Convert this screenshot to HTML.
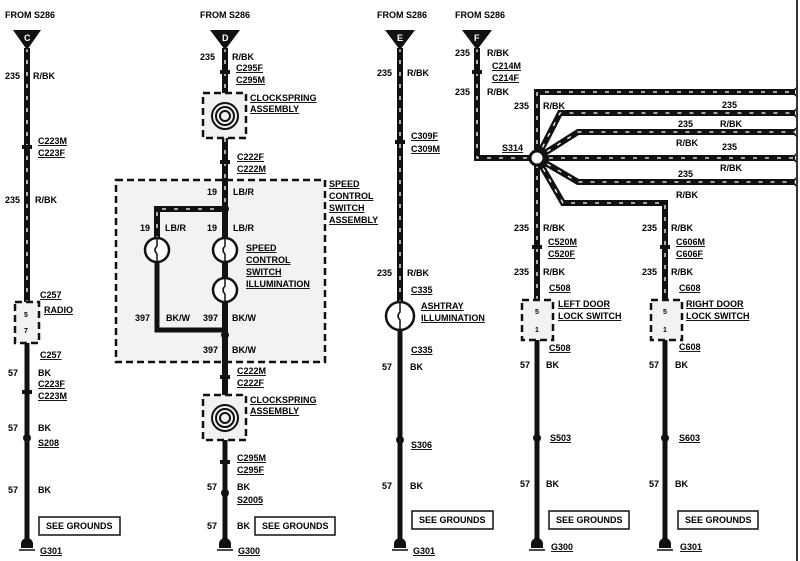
<!DOCTYPE html>
<html><head><meta charset="utf-8"><style>
body{margin:0;background:#fff}
svg{display:block}
text{font-family:"Liberation Sans",sans-serif;font-weight:bold;font-size:9px;fill:#000}
.u{text-decoration:underline}
.w{fill:none;stroke:#111;stroke-width:6}
.s{fill:none;stroke:#fff;stroke-width:1.3;stroke-dasharray:4 8}
.b{fill:none;stroke:#111;stroke-width:5}
.d{fill:#f2f2f2;stroke:#111;stroke-width:2.5;stroke-dasharray:7 4}
</style></head><body>
<svg width="800" height="561" viewBox="0 0 800 561">
<rect width="800" height="561" fill="#fff"/>
<!-- big speed control box -->
<rect x="116" y="180" width="209" height="182" class="d" fill="#f0f0f0"/>
<!-- striped wires -->
<path class="w" d="M27 48V302"/><path class="s" d="M27 48V302"/>
<path class="w" d="M225 48V93M225 138V395"/><path class="s" d="M225 48V93M225 138V209"/>
<path class="w" d="M157 240V209H225"/><path class="s" d="M157 240V209H225"/>
<path class="w" d="M400 48V302"/><path class="s" d="M400 48V302"/>
<path class="w" d="M477 48V158H537"/><path class="s" d="M477 48V158H537"/>
<path class="w" d="M537 300V92H795M537 158L560 113H795M537 158L578 132H795M537 158H795M537 158L578 182H795M537 158L563 203H665V300"/>
<path class="s" d="M537 300V92H795M537 158L560 113H795M537 158L578 132H795M537 158H795M537 158L578 182H795M537 158L563 203H665V300"/>
<circle cx="537" cy="158" r="7" fill="#fff" stroke="#111" stroke-width="3"/>
<!-- solid wires -->
<path class="b" d="M27 343V545M157 260V330H225M225 440V545M400 330V545M537 340V545M665 340V545M225 300V360"/>
<path class="b" d="M225 440V545" />
<!-- wire ends right -->
<g fill="none" stroke="#111" stroke-width="1.5"><path d="M795 88q4 4 0 8M795 109q4 4 0 8M795 128q4 4 0 8M795 154q4 4 0 8M795 178q4 4 0 8"/></g>
<!-- triangles -->
<g fill="#111"><path d="M13 30H41L27 50Z"/><path d="M210 30H240L225 50Z"/><path d="M385 30H415L400 50Z"/><path d="M462 30H492L477 50Z"/></g>
<g style="font-size:8px" fill="#fff"><text x="24" y="41" fill="#fff" style="fill:#fff">C</text><text x="222" y="41" style="fill:#fff">D</text><text x="397" y="41" style="fill:#fff">E</text><text x="474" y="41" style="fill:#fff">F</text></g>
<text x="5" y="18">FROM S286</text><text x="200" y="18">FROM S286</text><text x="377" y="18">FROM S286</text><text x="455" y="18">FROM S286</text>
<!-- connector marks -->
<g fill="#111"><rect x="22" y="145" width="10" height="4"/><rect x="220" y="70" width="10" height="4"/><rect x="220" y="160" width="10" height="4"/><rect x="395" y="140" width="10" height="4"/><rect x="472" y="70" width="10" height="4"/><rect x="532" y="245" width="10" height="4"/><rect x="660" y="245" width="10" height="4"/><rect x="22" y="390" width="10" height="4"/><rect x="220" y="375" width="10" height="4"/><rect x="220" y="460" width="10" height="4"/></g>
<!-- dashed boxes -->
<rect x="15" y="302" width="24" height="41" class="d"/><text x="24" y="317" style="font-size:7px">5</text><text x="24" y="333" style="font-size:7px">7</text>
<rect x="203" y="93" width="43" height="45" class="d"/><rect x="203" y="395" width="43" height="45" class="d"/>
<rect x="522" y="300" width="31" height="40" class="d"/><text x="535" y="314" style="font-size:7px">5</text><text x="535" y="332" style="font-size:7px">1</text>
<rect x="651" y="300" width="31" height="40" class="d"/><text x="663" y="314" style="font-size:7px">5</text><text x="663" y="332" style="font-size:7px">1</text>
<g fill="none" stroke="#111" stroke-width="2"><circle cx="225" cy="116" r="13"/><circle cx="225" cy="116" r="9"/><circle cx="225" cy="116" r="5"/><circle cx="225" cy="418" r="13"/><circle cx="225" cy="418" r="9"/><circle cx="225" cy="418" r="5"/></g>
<!-- bulbs -->
<g fill="#fff" stroke="#111" stroke-width="2.5"><circle cx="157" cy="250" r="12"/><circle cx="225" cy="250" r="12"/><circle cx="225" cy="290" r="12"/><circle cx="400" cy="316" r="14"/></g>
<g fill="none" stroke="#111" stroke-width="1.5"><path d="M157 238v8q-4 4 0 8v8M225 238v8q-4 4 0 8v8M225 278v8q-4 4 0 8v8M400 302v10q-4 4 0 8v10"/></g>
<!-- dots -->
<g fill="#111"><circle cx="225" cy="209" r="4"/><circle cx="225" cy="335" r="4"/><circle cx="27" cy="438" r="4"/><circle cx="225" cy="493" r="4"/><circle cx="400" cy="440" r="4"/><circle cx="537" cy="438" r="4"/><circle cx="665" cy="438" r="4"/></g>
<!-- grounds -->
<g fill="#111"><path d="M21 548h12v-4a6 6 0 0 0-12 0zM219 548h12v-4a6 6 0 0 0-12 0zM394 548h12v-4a6 6 0 0 0-12 0zM531 548h12v-4a6 6 0 0 0-12 0zM659 548h12v-4a6 6 0 0 0-12 0z"/></g>
<g stroke="#111" stroke-width="1.5"><path d="M19 550h16M217 550h16M392 550h16M529 550h16M657 550h16"/></g>
<text x="40" y="554" class="u">G301</text><text x="238" y="554" class="u">G300</text><text x="413" y="554" class="u">G301</text><text x="551" y="550" class="u">G300</text><text x="680" y="550" class="u">G301</text>
<!-- SEE GROUNDS -->
<g fill="#fff" stroke="#111" stroke-width="1.5"><rect x="39" y="517" width="81" height="18"/><rect x="255" y="517" width="80" height="18"/><rect x="412" y="511" width="81" height="18"/><rect x="549" y="511" width="80" height="18"/><rect x="678" y="511" width="80" height="18"/></g>
<text x="46" y="529">SEE GROUNDS</text><text x="262" y="529">SEE GROUNDS</text><text x="419" y="523">SEE GROUNDS</text><text x="556" y="523">SEE GROUNDS</text><text x="685" y="523">SEE GROUNDS</text>
<!-- column C labels -->
<text x="5" y="79">235</text><text x="33" y="79">R/BK</text>
<text x="38" y="144" class="u">C223M</text><text x="38" y="156" class="u">C223F</text>
<text x="5" y="203">235</text><text x="35" y="203">R/BK</text>
<text x="40" y="298" class="u">C257</text><text x="44" y="313" class="u">RADIO</text><text x="40" y="358" class="u">C257</text>
<text x="8" y="376">57</text><text x="38" y="376">BK</text>
<text x="38" y="387" class="u">C223F</text><text x="38" y="399" class="u">C223M</text>
<text x="8" y="431">57</text><text x="38" y="431">BK</text><text x="38" y="446" class="u">S208</text>
<text x="8" y="493">57</text><text x="38" y="493">BK</text>
<!-- column D labels -->
<text x="200" y="60">235</text><text x="232" y="60">R/BK</text>
<text x="236" y="71" class="u">C295F</text><text x="236" y="83" class="u">C295M</text>
<text x="250" y="101" class="u">CLOCKSPRING</text><text x="250" y="112" class="u">ASSEMBLY</text>
<text x="237" y="160" class="u">C222F</text><text x="237" y="172" class="u">C222M</text>
<text x="207" y="195">19</text><text x="233" y="195">LB/R</text>
<text x="329" y="187" class="u">SPEED</text><text x="329" y="199" class="u">CONTROL</text><text x="329" y="211" class="u">SWITCH</text><text x="329" y="223" class="u">ASSEMBLY</text>
<text x="140" y="231">19</text><text x="165" y="231">LB/R</text><text x="207" y="231">19</text><text x="233" y="231">LB/R</text>
<text x="246" y="251" class="u">SPEED</text><text x="246" y="263" class="u">CONTROL</text><text x="246" y="275" class="u">SWITCH</text><text x="246" y="287" class="u">ILLUMINATION</text>
<text x="135" y="321">397</text><text x="166" y="321">BK/W</text><text x="203" y="321">397</text><text x="232" y="321">BK/W</text>
<text x="203" y="353">397</text><text x="232" y="353">BK/W</text>
<text x="237" y="374" class="u">C222M</text><text x="237" y="386" class="u">C222F</text>
<text x="250" y="403" class="u">CLOCKSPRING</text><text x="250" y="414" class="u">ASSEMBLY</text>
<text x="237" y="461" class="u">C295M</text><text x="237" y="473" class="u">C295F</text>
<text x="207" y="490">57</text><text x="237" y="490">BK</text><text x="237" y="503" class="u">S2005</text>
<text x="207" y="529">57</text><text x="237" y="529">BK</text>
<!-- column E labels -->
<text x="377" y="76">235</text><text x="407" y="76">R/BK</text>
<text x="411" y="139" class="u">C309F</text><text x="411" y="152" class="u">C309M</text>
<text x="377" y="276">235</text><text x="407" y="276">R/BK</text>
<text x="411" y="293" class="u">C335</text>
<text x="421" y="309" class="u">ASHTRAY</text><text x="421" y="321" class="u">ILLUMINATION</text>
<text x="411" y="353" class="u">C335</text>
<text x="382" y="370">57</text><text x="410" y="370">BK</text><text x="411" y="448" class="u">S306</text>
<text x="382" y="489">57</text><text x="410" y="489">BK</text>
<!-- column F labels -->
<text x="455" y="56">235</text><text x="487" y="56">R/BK</text>
<text x="492" y="69" class="u">C214M</text><text x="492" y="81" class="u">C214F</text>
<text x="455" y="95">235</text><text x="487" y="95">R/BK</text>
<text x="514" y="109">235</text><text x="543" y="109">R/BK</text>
<text x="502" y="151" class="u">S314</text>
<text x="722" y="108">235</text><text x="678" y="127">235</text><text x="720" y="127">R/BK</text>
<text x="676" y="146">R/BK</text><text x="722" y="150">235</text>
<text x="720" y="171">R/BK</text><text x="678" y="177">235</text><text x="676" y="198">R/BK</text>
<text x="514" y="231">235</text><text x="543" y="231">R/BK</text>
<text x="548" y="245" class="u">C520M</text><text x="548" y="257" class="u">C520F</text>
<text x="514" y="275">235</text><text x="543" y="275">R/BK</text>
<text x="549" y="291" class="u">C508</text>
<text x="558" y="307" class="u">LEFT DOOR</text><text x="558" y="319" class="u">LOCK SWITCH</text>
<text x="549" y="351" class="u">C508</text>
<text x="520" y="368">57</text><text x="546" y="368">BK</text><text x="550" y="441" class="u">S503</text>
<text x="520" y="487">57</text><text x="546" y="487">BK</text>
<text x="642" y="231">235</text><text x="671" y="231">R/BK</text>
<text x="676" y="245" class="u">C606M</text><text x="676" y="257" class="u">C606F</text>
<text x="642" y="275">235</text><text x="671" y="275">R/BK</text>
<text x="679" y="291" class="u">C608</text>
<text x="686" y="307" class="u">RIGHT DOOR</text><text x="686" y="319" class="u">LOCK SWITCH</text>
<text x="679" y="350" class="u">C608</text>
<text x="649" y="368">57</text><text x="675" y="368">BK</text><text x="679" y="441" class="u">S603</text>
<text x="649" y="487">57</text><text x="675" y="487">BK</text>
<path d="M797 0V561" stroke="#333" stroke-width="2"/>
</svg>
</body></html>
